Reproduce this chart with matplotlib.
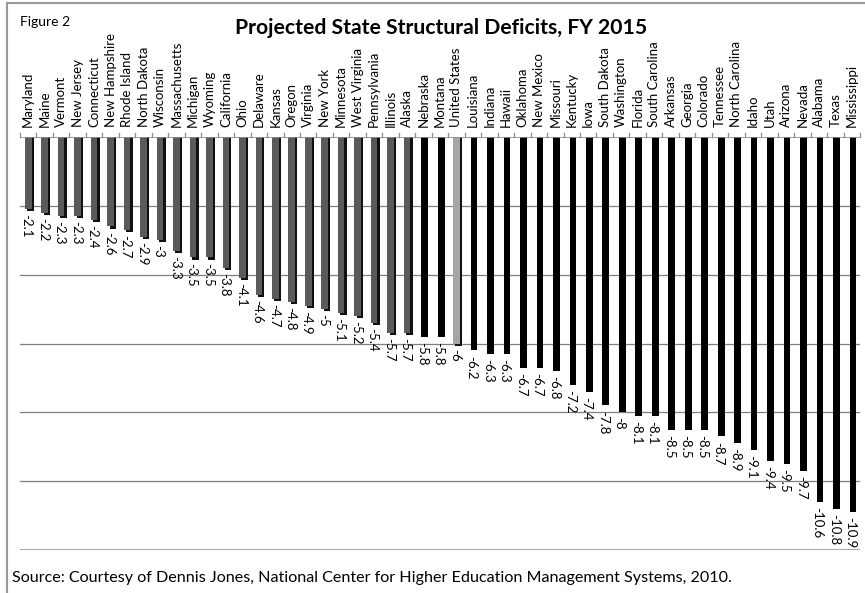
import matplotlib
matplotlib.use("Agg")
import matplotlib.pyplot as plt
from matplotlib.lines import Line2D
import numpy as np

plt.rcParams["font.family"] = ["Lato", "DejaVu Sans"]

states = [
    "Maryland", "Maine", "Vermont", "New Jersey", "Connecticut", "New Hampshire",
    "Rhode Island", "North Dakota", "Wisconsin", "Massachusetts", "Michigan",
    "Wyoming", "California", "Ohio", "Delaware", "Kansas", "Oregon", "Virginia",
    "New York", "Minnesota", "West Virginia", "Pennsylvania", "Illinois", "Alaska",
    "Nebraska", "Montana", "United States", "Louisiana", "Indiana", "Hawaii",
    "Oklahoma", "New Mexico", "Missouri", "Kentucky", "Iowa", "South Dakota",
    "Washington", "Florida", "South Carolina", "Arkansas", "Georgia", "Colorado",
    "Tennessee", "North Carolina", "Idaho", "Utah", "Arizona", "Nevada",
    "Alabama", "Texas", "Mississippi",
]
deficits = [
    -2.1, -2.2, -2.3, -2.3, -2.4, -2.6, -2.7, -2.9, -3, -3.3, -3.5, -3.5, -3.8,
    -4.1, -4.6, -4.7, -4.8, -4.9, -5, -5.1, -5.2, -5.4, -5.7, -5.7, -5.8, -5.8,
    -6, -6.2, -6.3, -6.3, -6.7, -6.7, -6.8, -7.2, -7.4, -7.8, -8, -8.1, -8.1,
    -8.5, -8.5, -8.5, -8.7, -8.9, -9.1, -9.4, -9.5, -9.7, -10.6, -10.8, -10.9,
]
# group: 0 = better than nation (grey), 1 = nation, 2 = worse (black)
groups = [0] * 24 + [2, 2, 1] + [2] * 24
group_colors = {0: "#5a5a5a", 1: "#a6a6a6", 2: "#000000"}

x = np.arange(len(states))
vals = np.array(deficits)
grp = np.array(groups)
light = grp != 2

fig = plt.figure(figsize=(8.65, 5.93), dpi=100)
ax = fig.add_axes([20 / 865, 43 / 593, 840 / 865, 413 / 593])

# grey bars get a dark side/shadow for the Excel 3-D look
ax.bar(x[light] + 0.14, vals[light] - 0.06, width=0.4, color="#111111", zorder=2)
ax.bar(x[light], vals[light], width=0.4,
       color=[group_colors[g] for g in grp[light]], zorder=3)
ax.bar(x[~light] + 0.07, vals[~light], width=0.41, color="#000000", zorder=3)

ax.set_xlim(-0.5, len(states) - 0.5)
ax.set_ylim(-12, 0)
for gy in [-2, -4, -6, -8, -10]:
    ax.axhline(gy, color="#7f7f7f", lw=0.9, zorder=1)
ax.axhline(-12, color="#9a9a9a", lw=1.2, zorder=1)

for s in ax.spines.values():
    s.set_visible(False)
ax.axhline(0, color="#8c8c8c", lw=1.2, zorder=4)
ax.set_xticks([])
ax.set_yticks([])
for b in np.arange(-0.5, len(states), 1.0):
    ax.plot([b, b], [0, 0.12], color="#8c8c8c", lw=0.9, clip_on=False)

for xi, name in zip(x, states):
    ax.text(xi, 0.28, name, rotation=90, ha="center", va="bottom",
            fontsize=9.5, clip_on=False)
for xi, v in zip(x, vals):
    ax.text(xi - 0.1, v - 0.15, f"{v:g}", rotation=270, ha="center", va="top",
            fontsize=9.5, clip_on=False)

fig.text(441 / 865, 1 - 28 / 593, "Projected State Structural Deficits, FY 2015",
         ha="center", va="center", fontsize=15.2, fontweight="bold")
fig.text(20 / 865, 1 - 22 / 593, "Figure 2", ha="left", va="center", fontsize=10)
fig.text(12 / 865, 1 - 578 / 593,
         "Source: Courtesy of Dennis Jones, National Center for Higher Education "
         "Management Systems, 2010.",
         ha="left", va="center", fontsize=11.6)

# outer frame
fig.add_artist(Line2D([7 / 865, 864 / 865], [1 - 3 / 593, 1 - 3 / 593],
                      color="#9a9a9a", lw=1.5))
fig.add_artist(Line2D([7 / 865, 7 / 865], [0, 1 - 3 / 593],
                      color="#9a9a9a", lw=1.5))

fig.savefig("out.png", dpi=100)
